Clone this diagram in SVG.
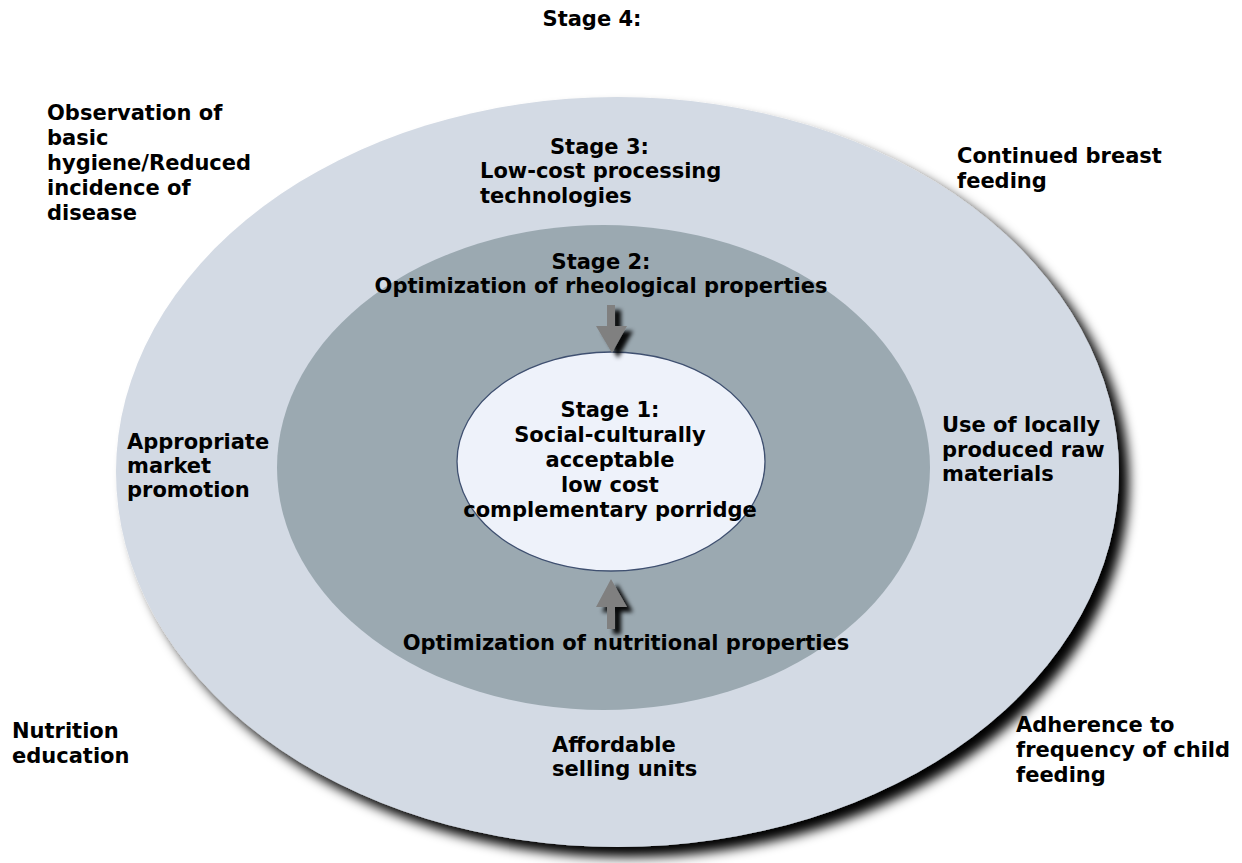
<svg xmlns="http://www.w3.org/2000/svg" width="1242" height="863" viewBox="0 0 1242 863">
<defs>
<filter id="shOuter" x="-10%" y="-10%" width="125%" height="125%">
<feDropShadow dx="10" dy="10" stdDeviation="6" flood-color="#000" flood-opacity="1"/>
</filter>
<filter id="shArrow" x="-50%" y="-50%" width="200%" height="200%">
<feDropShadow dx="6" dy="5" stdDeviation="2" flood-color="#000" flood-opacity="0.95"/>
</filter>
</defs>
<style>
text{font-family:"DejaVu Sans",Verdana,sans-serif;font-weight:bold;font-size:21px;fill:#000}
.c{text-anchor:middle}
.arrow{fill:#808080;filter:url(#shArrow)}
</style>
<rect width="1242" height="863" fill="#fff"/>
<g id="stage4-ring">
<ellipse cx="617.5" cy="472" rx="501.5" ry="375" fill="#D3DAE4" filter="url(#shOuter)"/>
</g>
<g id="stage2-ring">
<ellipse cx="603.5" cy="467.5" rx="326.5" ry="242.5" fill="#9BA9B1"/>
</g>
<g id="stage1">
<ellipse cx="611" cy="461.5" rx="154" ry="109.5" fill="#EEF2FA" stroke="#3F5070" stroke-width="1.3"/>
<text class="c" x="610" y="417">Stage 1:</text>
<text class="c" x="610" y="442">Social-culturally</text>
<text class="c" x="610" y="467">acceptable</text>
<text class="c" x="610" y="492">low cost</text>
<text class="c" x="610" y="517">complementary porridge</text>
</g>
<g id="connectors">
<polygon class="arrow" points="607,305 615,305 615,326 627,326 612,353 596,326 607,326"/>
<polygon class="arrow" points="611,579 627,607 615,607 615,629 607,629 607,607 596,607"/>
</g>
<g id="stage4-label"><text class="c" x="592" y="26">Stage 4:</text></g>
<g id="stage3-label">
<text x="550" y="154">Stage 3:</text>
<text x="480" y="178">Low-cost processing</text>
<text x="480" y="203">technologies</text>
</g>
<g id="stage2-label">
<text class="c" x="601" y="269">Stage 2:</text>
<text class="c" x="601" y="293">Optimization of rheological properties</text>
</g>
<g id="nutritional-label">
<text class="c" x="626" y="650">Optimization of nutritional properties</text>
</g>
<g id="hygiene">
<text x="47" y="120">Observation of</text>
<text x="47" y="145">basic</text>
<text x="47" y="170">hygiene/Reduced</text>
<text x="47" y="195">incidence of</text>
<text x="47" y="220">disease</text>
</g>
<g id="breast-feeding">
<text x="957" y="163">Continued breast</text>
<text x="957" y="188">feeding</text>
</g>
<g id="market-promotion">
<text x="127" y="449">Appropriate</text>
<text x="127" y="473">market</text>
<text x="127" y="497">promotion</text>
</g>
<g id="raw-materials">
<text x="942" y="432">Use of locally</text>
<text x="942" y="457">produced raw</text>
<text x="942" y="481">materials</text>
</g>
<g id="nutrition-education">
<text x="12" y="738">Nutrition</text>
<text x="12" y="763">education</text>
</g>
<g id="selling-units">
<text x="552" y="752">Affordable</text>
<text x="552" y="776">selling units</text>
</g>
<g id="child-feeding">
<text x="1016" y="732">Adherence to</text>
<text x="1016" y="757">frequency of child</text>
<text x="1016" y="782">feeding</text>
</g>
</svg>
